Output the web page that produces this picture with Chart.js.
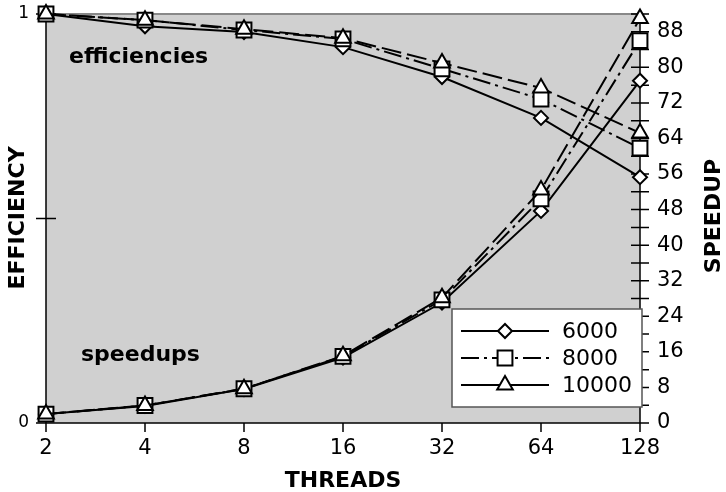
<!DOCTYPE html>
<html lang="en">
<head>
  <meta charset="UTF-8">
  <title>Efficiency and speedup</title>
  <script src="https://cdn.jsdelivr.net/npm/chart.js"></script>
  <style>
    html, body { margin: 0; padding: 0; background: #fff; }
    #wrap { width: 726px; height: 492px; }
  </style>
</head>
<body>
  <div id="wrap"><canvas id="chart"></canvas></div>
  <script>
    const threads = ['2', '4', '8', '16', '32', '64', '128'];
    const sizes = ['6000', '8000', '10000'];

    // efficiency (left axis)
    const eff6000 = [1, 0.97, 0.956, 0.919, 0.846, 0.746, 0.601];
    const eff8000 = [1, 0.985, 0.961, 0.939, 0.866, 0.792, 0.672];
    const eff10000 = [1, 0.985, 0.963, 0.941, 0.880, 0.819, 0.709];

    // speedup (right axis)
    const sp6000 = [2, 3.85, 7.65, 14.7, 27.1, 47.7, 77.0];
    const sp8000 = [2, 3.94, 7.7, 15.0, 27.7, 50.4, 86.0];
    const sp10000 = [2, 3.94, 7.7, 15.1, 28.2, 52.4, 91.0];

    const effTicks = [0, 0.5, 1];
    const speedupMax = 92;

    const FONT = 'DejaVu Sans';
    Chart.defaults.font.family = FONT;
    Chart.defaults.color = '#000';

    const styles = {
      '6000':  { pointStyle: 'rectRot', radius: 7, dash: [] },
      '8000':  { pointStyle: 'rect', radius: 10.5, dash: [18, 5, 3, 5] },
      '10000': { pointStyle: 'triangle', radius: 9, dash: [20, 6] }
    };

    function series(label, data, axis, order) {
      const s = styles[label];
      return {
        label: label,
        data: data,
        yAxisID: axis,
        order: order,
        borderColor: '#000',
        borderWidth: 2,
        borderDash: s.dash,
        backgroundColor: '#fff',
        pointStyle: s.pointStyle,
        pointRadius: s.radius,
        pointBorderWidth: 2,
        pointBackgroundColor: '#fff',
        pointBorderColor: '#000',
        tension: 0,
        clip: false
      };
    }

    function noPad(s) {
      s.paddingTop = 0; s.paddingBottom = 0;
      s.paddingLeft = 0; s.paddingRight = 0;
    }

    // plot background, axes, tick marks, titles, notes, legend
    const decor = {
      id: 'decor',
      beforeDraw(chart) {
        const { ctx, chartArea: a } = chart;
        ctx.save();
        ctx.fillStyle = '#d0d0d0';
        ctx.fillRect(a.left, a.top, a.right - a.left, a.bottom - a.top);
        ctx.strokeStyle = '#888';
        ctx.lineWidth = 2;
        ctx.beginPath();
        ctx.moveTo(a.left, a.top);
        ctx.lineTo(a.right, a.top);
        ctx.stroke();
        ctx.restore();
      },
      beforeDatasetsDraw(chart) {
        const { ctx, chartArea: a, scales } = chart;
        ctx.save();
        ctx.strokeStyle = '#000';
        ctx.lineWidth = 1.5;
        ctx.beginPath();
        ctx.moveTo(a.left, a.top); ctx.lineTo(a.left, a.bottom);
        ctx.moveTo(a.left, a.bottom); ctx.lineTo(a.right, a.bottom);
        ctx.moveTo(a.right, a.top); ctx.lineTo(a.right, a.bottom);
        scales.y.ticks.forEach(t => {
          const y = scales.y.getPixelForValue(t.value);
          ctx.moveTo(a.left - 10, y); ctx.lineTo(a.left + 10, y);
        });
        scales.y1.ticks.forEach(t => {
          const y = scales.y1.getPixelForValue(t.value);
          ctx.moveTo(a.right - 9, y); ctx.lineTo(a.right + 9, y);
        });
        threads.forEach((_, i) => {
          const x = scales.x.getPixelForValue(i);
          ctx.moveTo(x, a.bottom); ctx.lineTo(x, a.bottom + 9);
        });
        ctx.stroke();

        ctx.fillStyle = '#000';
        ctx.font = 'bold 22px ' + FONT;
        ctx.textBaseline = 'middle';
        ctx.textAlign = 'left';
        ctx.fillText('efficiencies', 69, 57);
        ctx.fillText('speedups', 81, 355);
        ctx.restore();
      },
      afterDraw(chart) {
        const { ctx, chartArea: a } = chart;
        ctx.save();
        ctx.fillStyle = '#000';
        ctx.font = 'bold 22px ' + FONT;
        ctx.textAlign = 'center';
        ctx.textBaseline = 'middle';
        ctx.fillText('THREADS', (a.left + a.right) / 2, 481);
        ctx.translate(18, 218);
        ctx.rotate(-Math.PI / 2);
        ctx.fillText('EFFICIENCY', 0, 0);
        ctx.restore();
        ctx.save();
        ctx.font = 'bold 22px ' + FONT;
        ctx.fillStyle = '#000';
        ctx.textAlign = 'center';
        ctx.textBaseline = 'middle';
        ctx.translate(714, 216);
        ctx.rotate(-Math.PI / 2);
        ctx.fillText('SPEEDUP', 0, 0);
        ctx.restore();

        // legend
        const bx = 452, by = 309, bw = 190, bh = 98;
        ctx.save();
        ctx.fillStyle = '#fff';
        ctx.fillRect(bx, by, bw, bh);
        ctx.strokeStyle = '#555';
        ctx.lineWidth = 1.5;
        ctx.strokeRect(bx, by, bw, bh);
        const legendDash = { '6000': [], '8000': [18, 5, 3, 5], '10000': [] };
        sizes.forEach((lbl, i) => {
          const y = 331 + i * 27;
          const s = styles[lbl];
          ctx.strokeStyle = '#000';
          ctx.lineWidth = 2;
          ctx.setLineDash(legendDash[lbl]);
          ctx.beginPath();
          ctx.moveTo(461, y); ctx.lineTo(549, y);
          ctx.stroke();
          ctx.setLineDash([]);
          ctx.fillStyle = '#fff';
          Chart.helpers.drawPoint(ctx, {
            pointStyle: s.pointStyle, radius: s.radius, rotation: 0, borderWidth: 2
          }, 505, y);
          ctx.fillStyle = '#000';
          ctx.font = '22px ' + FONT;
          ctx.textAlign = 'left';
          ctx.textBaseline = 'middle';
          ctx.fillText(lbl, 562, y + 1);
        });
        ctx.restore();
      }
    };

    new Chart(document.getElementById('chart'), {
      type: 'line',
      data: {
        labels: threads,
        datasets: [
          series('6000', eff6000, 'y', 2),
          series('8000', eff8000, 'y', 1),
          series('10000', eff10000, 'y', 0),
          series('6000', sp6000, 'y1', 2),
          series('8000', sp8000, 'y1', 1),
          series('10000', sp10000, 'y1', 0)
        ]
      },
      options: {
        responsive: true,
        maintainAspectRatio: false,
        animation: false,
        layout: { padding: { top: 14, left: 0, right: 0, bottom: 0 } },
        plugins: { legend: { display: false }, tooltip: { enabled: false } },
        scales: {
          x: {
            type: 'category',
            offset: false,
            grid: { display: false, drawTicks: false },
            border: { display: false },
            ticks: { font: { size: 21 }, padding: 13, maxRotation: 0, autoSkip: false },
            afterFit(s) { s.height = 69; noPad(s); }
          },
          y: {
            position: 'left',
            min: 0,
            max: 1,
            afterBuildTicks(s) { s.ticks = effTicks.map(v => ({ value: v })); },
            grid: { display: false, drawTicks: false },
            border: { display: false },
            ticks: {
              font: { size: 17 },
              padding: 17,
              callback: v => (v === 0.5 ? '' : String(v))
            },
            afterFit(s) { s.width = 46; noPad(s); }
          },
          y1: {
            position: 'right',
            min: 0,
            max: speedupMax,
            grid: { display: false, drawTicks: false },
            border: { display: false },
            ticks: {
              stepSize: 4,
              font: { size: 21 },
              padding: 17,
              autoSkip: false,
              callback: v => (v % 8 === 0 && v < speedupMax ? String(v) : '')
            },
            afterFit(s) { s.width = 86; noPad(s); }
          }
        }
      },
      plugins: [decor]
    });
  </script>
</body>
</html>
